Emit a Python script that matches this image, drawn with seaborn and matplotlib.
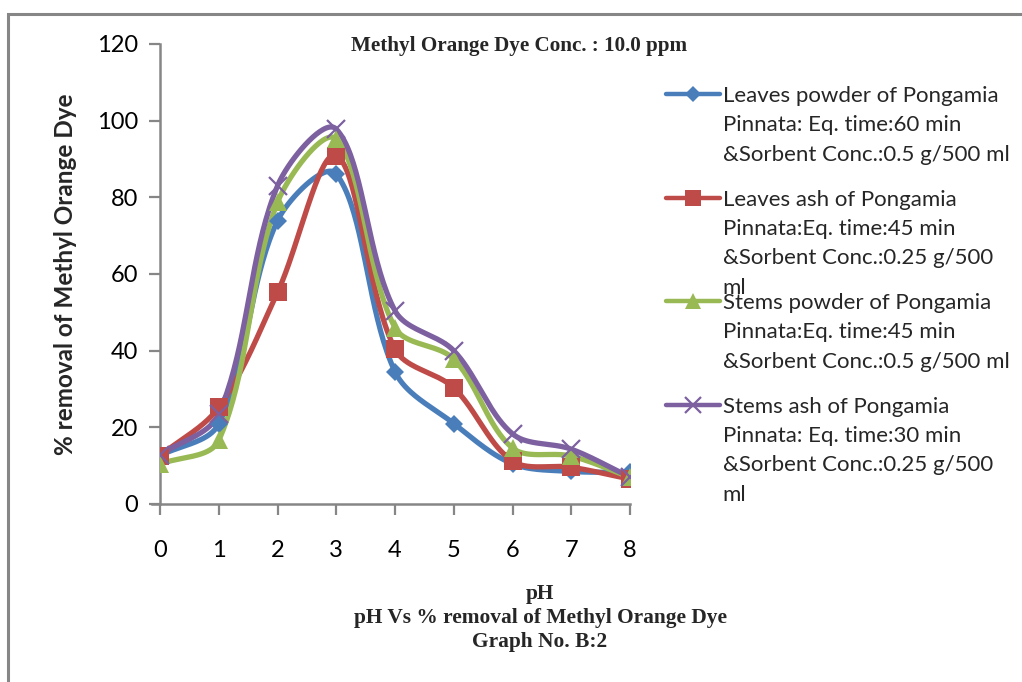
import numpy as np
import pandas as pd
import matplotlib
matplotlib.use("Agg")
import matplotlib.pyplot as plt
import seaborn as sns
from matplotlib.patches import Rectangle

# ---------------- data ----------------
ph = [0, 1, 2, 3, 4, 5, 6, 7, 8]
leaves_powder = [12.6, 20.9, 73.9, 86.1, 34.5, 21.0, 10.5, 8.5, 8.3]
leaves_ash = [12.6, 25.2, 55.2, 90.9, 40.4, 30.3, 11.2, 9.6, 6.5]
stems_powder = [10.4, 16.6, 78.7, 95.2, 46.0, 37.8, 14.6, 12.5, 7.0]
stems_ash = [12.8, 23.5, 83.0, 97.8, 50.4, 40.0, 18.3, 14.3, 7.0]

series_names = ["Leaves powder of Pongamia", "Leaves ash of Pongamia",
                "Stems powder of Pongamia", "Stems ash of Pongamia"]
series_rest = [
    "Pinnata: Eq. time:60 min\n&Sorbent Conc.:0.5 g/500 ml",
    "Pinnata:Eq. time:45 min\n&Sorbent Conc.:0.25 g/500\nml",
    "Pinnata:Eq. time:45 min\n&Sorbent Conc.:0.5 g/500 ml",
    "Pinnata: Eq. time:30 min\n&Sorbent Conc.:0.25 g/500\nml",
]
series_values = [leaves_powder, leaves_ash, stems_powder, stems_ash]
colors = ["#4A7EBB", "#BE4B48", "#98B954", "#7D60A0"]
markers = ["D", "s", "^", "x"]
msizes = [9, 13, 13, 13]

x_ticks = [0, 1, 2, 3, 4, 5, 6, 7, 8]
y_ticks = [0, 20, 40, 60, 80, 100, 120]

# pixel scale of the plot area (used only to shape the smoothing like Excel)
SX = 470 / 8.0
SY = 460 / 120.0


def smooth(xs, ys, n=40):
    """Excel-like smoothed line: chord-length scaled Catmull-Rom Bezier."""
    P = np.column_stack([np.asarray(xs, float) * SX, np.asarray(ys, float) * SY])
    m = len(P)
    d = np.linalg.norm(np.diff(P, axis=0), axis=1)
    tang = np.zeros_like(P)
    for i in range(m):
        if i == 0:
            tang[i] = (P[1] - P[0]) / d[0]
        elif i == m - 1:
            tang[i] = (P[-1] - P[-2]) / d[-1]
        else:
            tang[i] = (P[i + 1] - P[i - 1]) / (d[i - 1] + d[i])
    out = []
    t = np.linspace(0, 1, n)[:, None]
    for i in range(m - 1):
        p1, p2 = P[i], P[i + 1]
        c1 = p1 + tang[i] * d[i] / 3.0
        c2 = p2 - tang[i + 1] * d[i] / 3.0
        seg = ((1 - t) ** 3) * p1 + 3 * ((1 - t) ** 2) * t * c1 + 3 * (1 - t) * t ** 2 * c2 + t ** 3 * p2
        out.append(seg if i == 0 else seg[1:])
    arr = np.vstack(out)
    return arr[:, 0] / SX, arr[:, 1] / SY


sns.set_theme(style="white")
plt.rcParams['font.family'] = ['Lato', 'DejaVu Sans']

fig = plt.figure(figsize=(10.22, 6.82), dpi=100)
ax = fig.add_axes([160 / 1022, 1 - 504 / 682, 470 / 1022, 460 / 682])

gray = "#868686"
handles = []
for name, vals, c, m, ms in zip(series_names, series_values, colors, markers, msizes):
    sx, sy = smooth(ph, vals)
    df = pd.DataFrame({"pH": sx, "val": sy})
    sns.lineplot(data=df, x="pH", y="val", ax=ax, color=c, linewidth=3.8,
                 sort=False, estimator=None, legend=False, zorder=2)
    mew = 1.6 if m == "x" else 0
    ax.plot(ph, vals, linestyle="none", marker=m, markersize=ms, color=c,
            markeredgewidth=mew, markeredgecolor=c, zorder=3)
    h, = ax.plot([], [], color=c, linewidth=3.2, marker=m,
                 markersize=ms * 0.85, markeredgewidth=mew, markeredgecolor=c)
    handles.append(h)

ax.set_xlim(0, 8)
ax.set_ylim(0, 120)
ax.set_xticks(x_ticks)
ax.set_yticks(y_ticks)
ax.set_xticklabels([str(v) for v in x_ticks])
ax.set_yticklabels([str(v) for v in y_ticks])
ax.tick_params(axis="both", which="both", direction="out", length=8, width=1.6,
               color=gray, labelsize=17, labelcolor="black", left=True, bottom=True)
ax.tick_params(axis="x", pad=18)
ax.tick_params(axis="y", pad=8)
for side in ["top", "right"]:
    ax.spines[side].set_visible(False)
for side in ["left", "bottom"]:
    ax.spines[side].set_color(gray)
    ax.spines[side].set_linewidth(1.8)
ax.spines["bottom"].set_bounds(-0.14, 8)
ax.spines["left"].set_bounds(0, 120)
ax.grid(False)
ax.set_facecolor("none")
ax.set_xlabel("")
ax.set_ylabel("% removal of Methyl Orange Dye", fontsize=17.5, fontweight="bold",
              labelpad=14)

fig.text(519 / 1022, 1 - 46 / 682, "Methyl Orange Dye Conc. : 10.0 ppm",
         ha="center", va="center", fontsize=15.2, fontweight="bold",
         family="Liberation Serif")

fig.text(540 / 1022, 1 - 618 / 682, "pH\npH Vs % removal of Methyl Orange Dye\nGraph No. B:2",
         ha="center", va="center", fontsize=15.4, fontweight="bold",
         family="Liberation Serif", linespacing=1.3)

leg = ax.legend(handles, series_names, loc="upper left",
                bbox_to_anchor=(666 / 1022, 1 - 86 / 682), bbox_transform=fig.transFigure,
                frameon=False, fontsize=16, handlelength=2.45, handletextpad=0.1,
                labelspacing=3.76, borderaxespad=0, borderpad=0)
for t, rest in zip(leg.get_texts(), series_rest):
    ax.annotate(rest, xy=(0, 0), xycoords=t, xytext=(0, -6.5),
                textcoords="offset points", ha="left", va="top",
                fontsize=16, linespacing=1.6, zorder=10, annotation_clip=False)

# outer frame of the picture
fig.patches.append(Rectangle((8 / 1022, -0.05), 1.1, 1 - 14 / 682 + 0.05,
                             transform=fig.transFigure, fill=False,
                             edgecolor=gray, linewidth=2.2))

fig.savefig("out.png", dpi=100)
